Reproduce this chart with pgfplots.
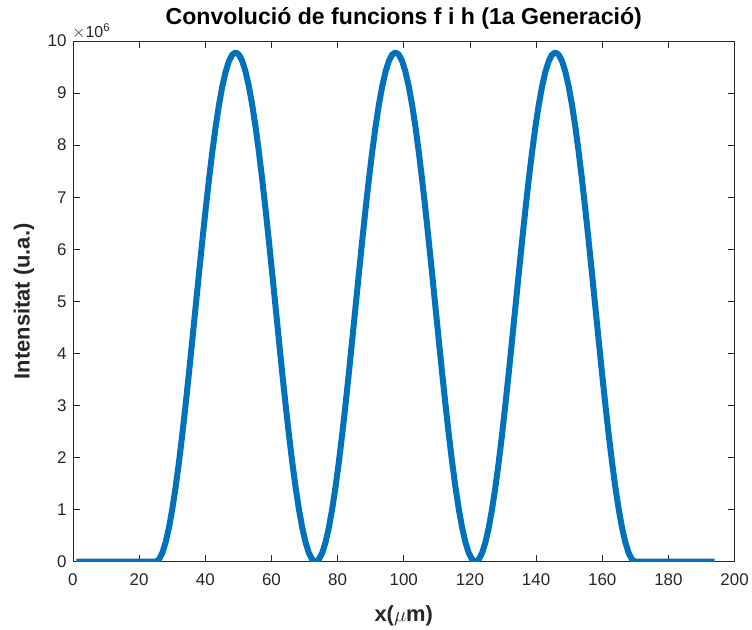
\documentclass[border=0pt]{standalone}
\usepackage{pgfplots}
\pgfplotsset{compat=1.18}
\usepackage{fontspec}
\setmainfont{Liberation Sans}
\definecolor{mblue}{RGB}{0,114,189}
\definecolor{axgray}{RGB}{38,38,38}
\begin{document}
\begin{tikzpicture}
\begin{axis}[
  scale only axis,
  width=662bp, height=521bp,
  xmin=0, xmax=200, ymin=0, ymax=10000000,
  xtick={0,20,...,200},
  ytick={0,1000000,...,10000000},
  scaled y ticks=manual:{{\fontsize{16}{18}\selectfont$\times$10\textsuperscript{6}}}{\pgfmathparse{#1/1000000}},
  every y tick scale label/.style={at={(rel axis cs:0,1)},anchor=south west,inner sep=2pt,text=axgray},
  /pgf/number format/assume math mode=true,
  tick align=inside,
  major tick length=7bp,
  axis line style={axgray, line width=0.8bp},
  every tick/.style={axgray, line width=0.8bp},
  tick label style={font=\fontsize{17}{20}\selectfont, text=axgray},
  xticklabel style={yshift=-9bp},
  yticklabel style={xshift=-3bp},
  title={\textbf{Convolució de funcions f i h (1a Generació)}},
  title style={font=\fontsize{23.2}{26}\selectfont, at={(axis description cs:0.5,1)}, anchor=base, yshift=11bp},
  xlabel={\textbf{x(}$\mu$\textbf{m)}},
  ylabel={\textbf{Intensitat (u.a.)}},
  label style={font=\fontsize{22}{26}\selectfont, text=axgray},
  xlabel style={at={(axis description cs:0.5,0)}, anchor=base, yshift=-60bp},
  ylabel style={at={(axis description cs:0,0.5)}, anchor=center, yshift=49bp, xshift=0bp},
]
\addplot[mblue, line width=6bp, line join=round] table[x=x,y=y] {
x y
1.0 0
5 0
10 0
15 0
20 0
25.000 0
26.007 41840
27.014 166620
28.021 372230
29.028 655130
30.035 1010500
31.042 1432250
32.049 1913150
33.056 2445000
34.063 3018680
35.069 3624380
36.076 4251730
37.083 4890000
38.090 5528270
39.097 6155620
40.104 6761320
41.111 7335000
42.118 7866850
43.125 8347750
44.132 8769500
45.139 9124870
46.146 9407770
47.153 9613380
48.160 9738160
49.167 9780000
50.174 9738160
51.181 9613380
52.188 9407770
53.194 9124870
54.201 8769500
55.208 8347750
56.215 7866850
57.222 7335000
58.229 6761320
59.236 6155620
60.243 5528270
61.250 4890000
62.257 4251730
63.264 3624380
64.271 3018680
65.278 2445000
66.285 1913150
67.292 1432250
68.299 1010500
69.306 655130
70.313 372230
71.319 166620
72.326 41840
73.333 0
74.340 41840
75.347 166620
76.354 372230
77.361 655130
78.368 1010500
79.375 1432250
80.382 1913150
81.389 2445000
82.396 3018680
83.403 3624380
84.410 4251730
85.417 4890000
86.424 5528270
87.431 6155620
88.438 6761320
89.444 7335000
90.451 7866850
91.458 8347750
92.465 8769500
93.472 9124870
94.479 9407770
95.486 9613380
96.493 9738160
97.500 9780000
98.507 9738160
99.514 9613380
100.521 9407770
101.528 9124870
102.535 8769500
103.542 8347750
104.549 7866850
105.556 7335000
106.563 6761320
107.569 6155620
108.576 5528270
109.583 4890000
110.590 4251730
111.597 3624380
112.604 3018680
113.611 2445000
114.618 1913150
115.625 1432250
116.632 1010500
117.639 655130
118.646 372230
119.653 166620
120.660 41840
121.667 0
122.674 41840
123.681 166620
124.688 372230
125.694 655130
126.701 1010500
127.708 1432250
128.715 1913150
129.722 2445000
130.729 3018680
131.736 3624380
132.743 4251730
133.750 4890000
134.757 5528270
135.764 6155620
136.771 6761320
137.778 7335000
138.785 7866850
139.792 8347750
140.799 8769500
141.806 9124870
142.813 9407770
143.819 9613380
144.826 9738160
145.833 9780000
146.840 9738160
147.847 9613380
148.854 9407770
149.861 9124870
150.868 8769500
151.875 8347750
152.882 7866850
153.889 7335000
154.896 6761320
155.903 6155620
156.910 5528270
157.917 4890000
158.924 4251730
159.931 3624380
160.938 3018680
161.944 2445000
162.951 1913150
163.958 1432250
164.965 1010500
165.972 655130
166.979 372230
167.986 166620
168.993 41840
170.000 0
175 0
180 0
185 0
190 0
194.0 0
};
\end{axis}
\useasboundingbox (-73bp,-67bp) rectangle (679bp,562bp);
\end{tikzpicture}
\end{document}
